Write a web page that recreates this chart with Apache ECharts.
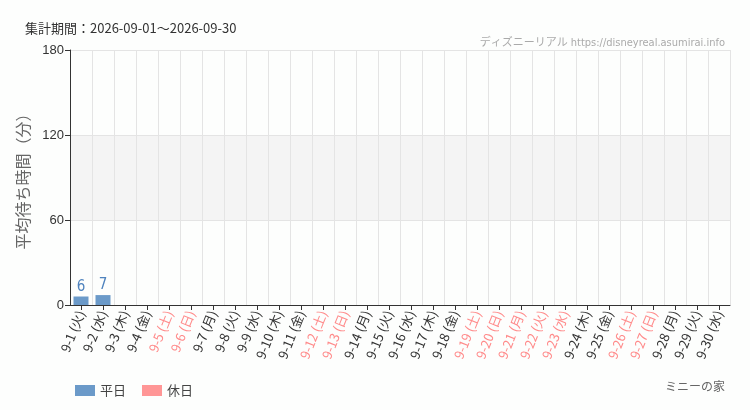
<!DOCTYPE html>
<html>
<head>
<meta charset="utf-8">
<script src="https://cdn.jsdelivr.net/npm/echarts@6/dist/echarts.min.js"></script>
<style>
  html, body { margin: 0; padding: 0; background: #fdfefd; }
  #chart { width: 750px; height: 410px; }
</style>
</head>
<body>
<div id="chart"></div>
<script>
// days of Sep 2026
const days = ["9-1 (火)", "9-2 (水)", "9-3 (木)", "9-4 (金)", "9-5 (土)", "9-6 (日)", "9-7 (月)", "9-8 (火)", "9-9 (水)", "9-10 (木)",
  "9-11 (金)", "9-12 (土)", "9-13 (日)", "9-14 (月)", "9-15 (火)", "9-16 (水)", "9-17 (木)", "9-18 (金)", "9-19 (土)", "9-20 (日)",
  "9-21 (月)", "9-22 (火)", "9-23 (水)", "9-24 (木)", "9-25 (金)", "9-26 (土)", "9-27 (日)", "9-28 (月)", "9-29 (火)", "9-30 (水)"];
// 1 = holiday
const holiday = [0, 0, 0, 0, 1, 1, 0, 0, 0, 0,
  0, 1, 1, 0, 0, 0, 0, 0, 1, 1,
  1, 1, 1, 0, 0, 1, 1, 0, 0, 0];
const weekdayWait = [6, 7, null, null, null, null, null, null, null, null,
  null, null, null, null, null, null, null, null, null, null,
  null, null, null, null, null, null, null, null, null, null];
const holidayWait = [null, null, null, null, null, null, null, null, null, null,
  null, null, null, null, null, null, null, null, null, null,
  null, null, null, null, null, null, null, null, null, null];
const yTicks = [0, 60, 120, 180];

const narrow = '"DejaVu Sans Condensed", "Noto Sans CJK JP", sans-serif';
const jp = '"Noto Sans CJK JP", sans-serif';

const chart = echarts.init(document.getElementById('chart'));
chart.setOption({
  animation: false,
  backgroundColor: '#fdfefd',
  title: [
    {
      text: '集計期間：2026-09-01～2026-09-30',
      left: 20, top: 17,
      textStyle: { fontSize: 13, fontWeight: 'normal', color: '#333', fontFamily: jp }
    },
    {
      text: 'ディズニーリアル https://disneyreal.asumirai.info',
      right: 20, top: 33,
      textStyle: { fontSize: 11, fontWeight: 'normal', color: '#aaa', fontFamily: narrow }
    },
    {
      text: 'ミニーの家',
      right: 20, top: 377,
      textStyle: { fontSize: 12, fontWeight: 'normal', color: '#666', fontFamily: narrow }
    }
  ],
  legend: {
    left: 70, top: 379,
    icon: 'rect',
    itemWidth: 20, itemHeight: 11, itemGap: 16,
    textStyle: { fontSize: 13, color: '#444', fontFamily: jp },
    data: ['平日', '休日']
  },
  grid: { left: 70, right: 20, top: 50, bottom: 105 },
  xAxis: {
    type: 'category',
    data: days,
    axisLine: { lineStyle: { color: '#333' } },
    axisTick: { show: true, alignWithLabel: true, lineStyle: { color: '#333' } },
    splitLine: { show: true, lineStyle: { color: '#e4e4e4' } },
    axisLabel: {
      interval: 0,
      rotate: 68,
      fontSize: 13,
      margin: 6,
      fontFamily: jp,
      color: (v, i) => holiday[i] ? '#ff8a8a' : '#333'
    }
  },
  yAxis: {
    type: 'value',
    min: yTicks[0], max: yTicks[yTicks.length - 1], interval: 60,
    name: '平均待ち時間（分）',
    nameLocation: 'middle',
    nameGap: 33,
    nameTextStyle: { fontSize: 16, color: '#666', fontFamily: jp },
    axisLine: { show: true, lineStyle: { color: '#333' } },
    axisTick: { show: true, lineStyle: { color: '#333' } },
    axisLabel: { fontSize: 13, color: '#333', margin: 6 },
    splitLine: { show: true, lineStyle: { color: '#e4e4e4' } },
    splitArea: { show: true, areaStyle: { color: ['rgba(255,255,255,0)', '#f4f4f4'] } }
  },
  series: [
    {
      name: '平日', type: 'bar', stack: 'w', barWidth: 15,
      data: weekdayWait,
      itemStyle: { color: '#6b9ac9' },
      label: { show: true, position: 'top', color: '#4f83be', fontSize: 15, fontFamily: narrow, distance: 2 }
    },
    {
      name: '休日', type: 'bar', stack: 'w', barWidth: 15,
      data: holidayWait,
      itemStyle: { color: '#ff9696' },
      label: { show: true, position: 'top', color: '#ff7f7f', fontSize: 15, fontFamily: narrow, distance: 2 }
    }
  ]
});
</script>
</body>
</html>
